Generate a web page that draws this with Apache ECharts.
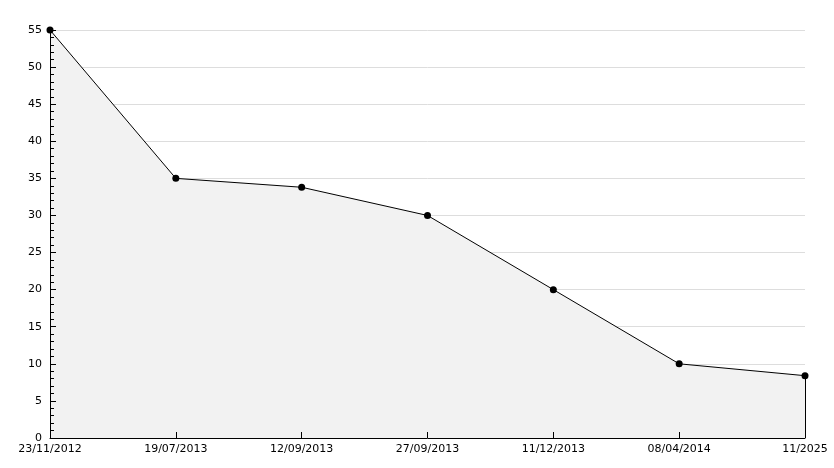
<!DOCTYPE html>
<html><head><meta charset="utf-8">
<script src="https://cdn.jsdelivr.net/npm/echarts@6/dist/echarts.min.js"></script>
<style>html,body{margin:0;padding:0;background:#fff}#c{width:834px;height:468px}</style>
</head><body><div id="c"></div>
<script>
const categories = ['23/11/2012','19/07/2013','12/09/2013','27/09/2013','11/12/2013','08/04/2014','11/2025'];
const values = [55, 35, 33.8, 30, 20, 10, 8.4];
const yTicks = {min: 0, max: 55, interval: 5};
const chart = echarts.init(document.getElementById('c'), null, {renderer: 'canvas'});
const lastCat = categories[categories.length - 1];
const lastVal = values[values.length - 1];
const font = {color: '#000', fontFamily: 'DejaVu Sans', fontSize: 11};
chart.setOption({
  animation: false,
  backgroundColor: '#fff',
  grid: {left: 50, right: 29, top: 30, bottom: 30, containLabel: false},
  xAxis: [{
    type: 'category', data: categories, boundaryGap: false, z: 10,
    axisLine: {lineStyle: {color: '#000', width: 1}},
    axisTick: {inside: true, length: 6, lineStyle: {color: '#000'}},
    axisLabel: Object.assign({margin: 6, interval: 0}, font),
    splitLine: {show: false}
  }],
  yAxis: [{
    type: 'value', min: yTicks.min, max: yTicks.max, interval: yTicks.interval, z: 0,
    position: 'left',
    axisLine: {show: false}, axisTick: {show: false}, axisLabel: {show: false},
    splitLine: {show: true, lineStyle: {color: '#dddddd', width: 1}}
  }, {
    type: 'value', min: yTicks.min, max: yTicks.max, interval: yTicks.interval, z: 10,
    position: 'left', offset: 0,
    axisLine: {show: true, lineStyle: {color: '#000', width: 1}},
    axisTick: {show: true, inside: true, length: 6, lineStyle: {color: '#000'}},
    minorTick: {show: true, splitNumber: 5, length: 4, lineStyle: {color: '#000'}},
    axisLabel: Object.assign({margin: 8}, font),
    splitLine: {show: false}
  }],
  series: [{
    type: 'line', data: values, yAxisIndex: 0, z: 2,
    symbol: 'circle', symbolSize: 7,
    itemStyle: {color: '#000'},
    lineStyle: {color: '#000', width: 1},
    areaStyle: {color: '#f2f2f2', opacity: 1},
    markLine: {
      silent: true, symbol: 'none', label: {show: false},
      lineStyle: {color: '#000', width: 1, type: 'solid'},
      data: [[{coord: [lastCat, 0]}, {coord: [lastCat, lastVal]}]]
    }
  }]
});
</script></body></html>
